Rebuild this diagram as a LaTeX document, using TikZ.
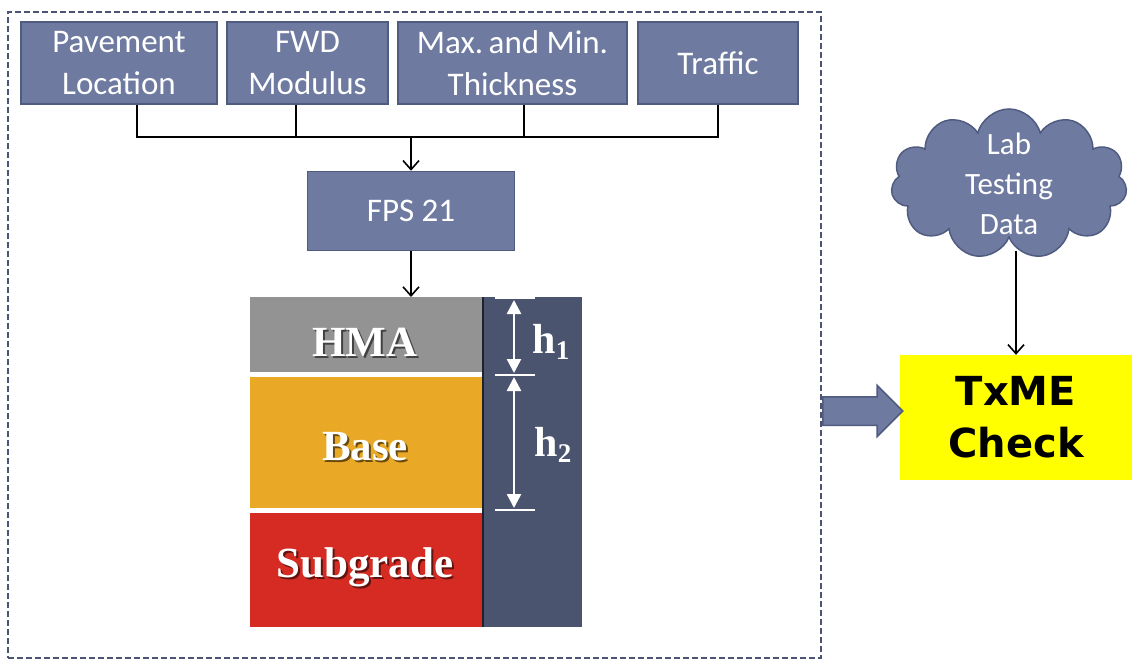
\documentclass[tikz,border=0pt]{standalone}
\usepackage{fontspec}
\setmainfont{Carlito}
\newfontfamily\layerfont{Liberation Serif}
\newfontfamily\txmefont{DejaVu Sans}
\usetikzlibrary{shapes.symbols,shapes.arrows,arrows.meta}
\definecolor{boxfill}{RGB}{110,122,160}
\definecolor{boxdraw}{RGB}{80,91,128}
\definecolor{framecol}{RGB}{75,85,115}
\definecolor{hmagray}{RGB}{147,147,147}
\definecolor{baseorange}{RGB}{233,168,37}
\definecolor{subred}{RGB}{213,43,34}
\definecolor{darkcol}{RGB}{74,84,110}
\definecolor{txmeyellow}{RGB}{255,255,0}
\tikzset{
  inputbox/.style={draw=boxdraw, fill=boxfill, line width=1.5pt, text=white,
    font=\fontsize{33}{42}\selectfont, align=center, inner sep=0pt},
  conn/.style={line width=1.6pt, black},
  connarrow/.style={conn, -{Straight Barb[length=9pt,width=16pt,line width=1.6pt]}},
  layerbox/.style={inner sep=0pt, anchor=north west, minimum width=233pt},
  layertext/.style={text=white, font=\layerfont\bfseries\fontsize{43}{43}\selectfont, inner sep=0pt},
  layershadow/.style={text=black, opacity=0.55, font=\layerfont\bfseries\fontsize{43}{43}\selectfont, inner sep=0pt},
  dimline/.style={white, line width=2.5pt},
  dimarrow/.style={white, line width=2.5pt, {Triangle[length=14pt,width=14pt]}-{Triangle[length=14pt,width=14pt]}},
}
\begin{document}
\begin{tikzpicture}[x=1pt,y=-1pt]
\useasboundingbox (0,0) rectangle (1132,660);
\fill[white] (0,0) rectangle (1132,660);

% dashed frame
\node[draw=framecol, dash pattern=on 6pt off 3pt, line width=2pt, anchor=north west,
  minimum width=813pt, minimum height=646pt, inner sep=0pt] (frame) at (7,11) {};

% input boxes
\node[inputbox, minimum width=196pt, minimum height=82pt] (b1) at (119,63) {Pavement\\Location};
\node[inputbox, minimum width=161pt, minimum height=82pt] (b2) at (307.5,63) {FWD\\Modulus};
\node[inputbox, minimum width=229pt, minimum height=82pt] (b3) at (512.5,63) {Max.\,and Min.\\Thickness};
\node[inputbox, minimum width=160pt, minimum height=82pt] (b4) at (718,63) {Traffic};
\node[inputbox, minimum width=207pt, minimum height=79pt] (fps) at (411,211) {FPS 21};

\coordinate (bus) at (411,137);
\draw[conn] ([xshift=18pt]b1.south) |- (bus);
\draw[conn] ([xshift=-11.5pt]b2.south) |- (bus);
\draw[conn] ([xshift=11.5pt]b3.south) |- (bus);
\draw[conn] (b4.south) |- (bus);
\draw[connarrow] (bus) -- (fps.north);

% layers
\node[layerbox, fill=hmagray, minimum height=75pt] (hma) at (250,297) {};
\node[layerbox, fill=baseorange, minimum height=131pt] (base) at (250,377) {};
\node[layerbox, fill=subred, minimum height=114pt] (subg) at (250,513) {};
\node[inner sep=0pt, anchor=north west, fill=darkcol, minimum width=99pt, minimum height=330pt] (col) at (483,297) {};
\draw[black!60!darkcol, line width=1.5pt] (col.north west) -- (col.south west);

\draw[connarrow] (fps.south) -- (fps.south |- hma.north);

\node[layershadow] (hmas) at (367,344) {HMA};
\node[layertext] (hmat) at (365,342) {HMA};
\node[layershadow] (bases) at (367,449) {Base};
\node[layertext] (baset) at (365,447) {Base};
\node[layershadow] (subgs) at (367,569) {Subgrade};
\node[layertext] (subgt) at (365,567) {Subgrade};

% dimensions
\coordinate (t1a) at (495,298); \coordinate (t1b) at (535,298);
\coordinate (t2a) at (495,375); \coordinate (t2b) at (535,375);
\coordinate (t3a) at (495,510); \coordinate (t3b) at (535,510);
\draw[dimline] (t1a) -- (t1b);
\draw[dimline] (t2a) -- (t2b);
\draw[dimline] (t3a) -- (t3b);
\coordinate (d1a) at (514,300); \coordinate (d1b) at (514,373);
\coordinate (d2a) at (514,377); \coordinate (d2b) at (514,508);
\draw[dimarrow] (d1a) -- (d1b);
\draw[dimarrow] (d2a) -- (d2b);
\node[text=white, inner sep=0pt, font=\layerfont\bfseries\fontsize{42}{42}\selectfont] (h1) at (551,342)
  {h\raisebox{-6pt}{\fontsize{27}{27}\selectfont 1}};
\node[text=white, inner sep=0pt, font=\layerfont\bfseries\fontsize{42}{42}\selectfont] (h2) at (553,445)
  {h\raisebox{-6pt}{\fontsize{27}{27}\selectfont 2}};

% right side
\node[fill=txmeyellow, minimum width=232pt, minimum height=125pt, inner sep=0pt, align=center,
  font=\txmefont\bfseries\fontsize{40}{52}\selectfont] (txme) at (1016,417.5) {TxME\\Check};
\node[cloud, cloud puffs=11, aspect=1.74, fill=boxfill, draw=boxdraw, line width=1.5pt,
  minimum width=236pt, minimum height=150pt, inner sep=0pt,
  label={[text=white, align=center, font=\fontsize{31}{40}\selectfont]center:Lab\\Testing\\Data}] (lab) at (1009,184) {};
\draw[connarrow] ([yshift=-67pt]lab.center -| txme.north) -- (txme.north);

\node[single arrow, fill=boxfill, draw=boxdraw, line width=1.5pt, inner xsep=0pt, inner ysep=13.5pt,
  minimum height=80pt, minimum width=50pt, single arrow head extend=11.5pt, anchor=tail] (bigarrow) at (822,411) {};
\end{tikzpicture}
\end{document}
